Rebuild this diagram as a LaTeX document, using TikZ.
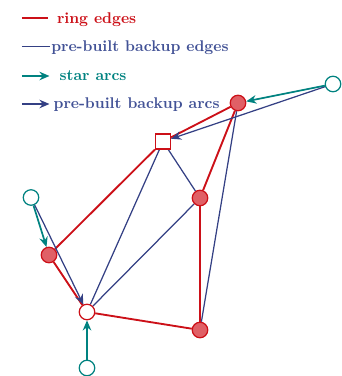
\documentclass[tikz,border=0pt]{standalone}
\usetikzlibrary{arrows.meta,backgrounds}
\definecolor{ringred}{RGB}{204,16,24}
\definecolor{ringfill}{RGB}{224,96,102}
\definecolor{bkblue}{RGB}{52,64,132}
\definecolor{txtblue}{RGB}{66,82,150}
\definecolor{starteal}{RGB}{0,130,128}
\tikzset{
  ringedge/.style={draw=ringred,line width=1.2pt},
  bkedge/.style={draw=bkblue,line width=0.8pt},
  bkarc/.style={draw=bkblue,line width=0.8pt,-{Stealth[length=6.5pt,width=5.5pt]}},
  stararc/.style={draw=starteal,line width=1.1pt,-{Stealth[length=6.5pt,width=5.5pt]}},
  rfill/.style={circle,draw=ringred,fill=ringfill,line width=0.8pt,minimum size=10pt,inner sep=0pt},
  ropen/.style={circle,draw=ringred,fill=white,line width=0.8pt,minimum size=10pt,inner sep=0pt},
  tnode/.style={circle,draw=starteal,fill=white,line width=0.8pt,minimum size=10pt,inner sep=0pt},
  sqnode/.style={rectangle,draw=ringred,fill=white,line width=0.8pt,minimum size=9.7pt,inner sep=0pt},
  legtext/.style={anchor=base west,inner sep=0pt,font=\bfseries}
}
\begin{document}
\begin{tikzpicture}[x=0.645pt,y=-0.645pt]
\useasboundingbox (0,0) rectangle (342,376);
% legend
\coordinate (l1a) at (22,18.3); \coordinate (l1b) at (48.5,18.3);
\coordinate (l2a) at (22,46.7); \coordinate (l2b) at (50,46.7);
\coordinate (l3a) at (22,76); \coordinate (l3b) at (49.5,76);
\coordinate (l4a) at (22,104); \coordinate (l4b) at (49.5,104);
\draw[ringedge] (l1a) -- (l1b);
\draw[bkedge] (l2a) -- (l2b);
\draw[stararc] (l3a) -- (l3b);
\draw[bkarc] (l4a) -- (l4b);
\node[legtext,text=ringred] (t1) at (56.7,23) {ring edges};
\node[legtext,text=txtblue] (t2) at (51,51.5) {pre-built backup edges};
\node[legtext,text=starteal] (t3) at (59.3,80.5) {star arcs};
\node[legtext,text=txtblue] (t4) at (53.3,108.5) {pre-built backup arcs};
% nodes
\node[rfill] (A) at (238,103) {};
\node[tnode] (T) at (333,84) {};
\node[sqnode] (S) at (163,141.5) {};
\node[rfill] (B) at (200,198) {};
\node[rfill] (C) at (49,255) {};
\node[ropen] (D) at (87,312) {};
\node[rfill] (E) at (200,330) {};
\node[tnode] (F) at (31,197.5) {};
\node[tnode] (G) at (87,368) {};
\begin{scope}[on background layer]
% backup edges
\draw[bkedge] (S) -- (D);
\draw[bkedge] (S) -- (B);
\draw[bkedge] (B) -- (D);
\draw[bkedge] (A) -- (E);
% ring edges
\draw[ringedge] (A) -- (S);
\draw[ringedge] (A) -- (B);
\draw[ringedge] (B) -- (E);
\draw[ringedge] (E) -- (D);
\draw[ringedge] (D) -- (C);
\draw[ringedge] (C) -- (S);
% arcs
\draw[bkarc] (T) -- (S);
\draw[bkarc] (F) -- (D);
\draw[stararc] (T) -- (A);
\draw[stararc] (F) -- (C);
\draw[stararc] (G) -- (D);
\end{scope}
\end{tikzpicture}
\end{document}
